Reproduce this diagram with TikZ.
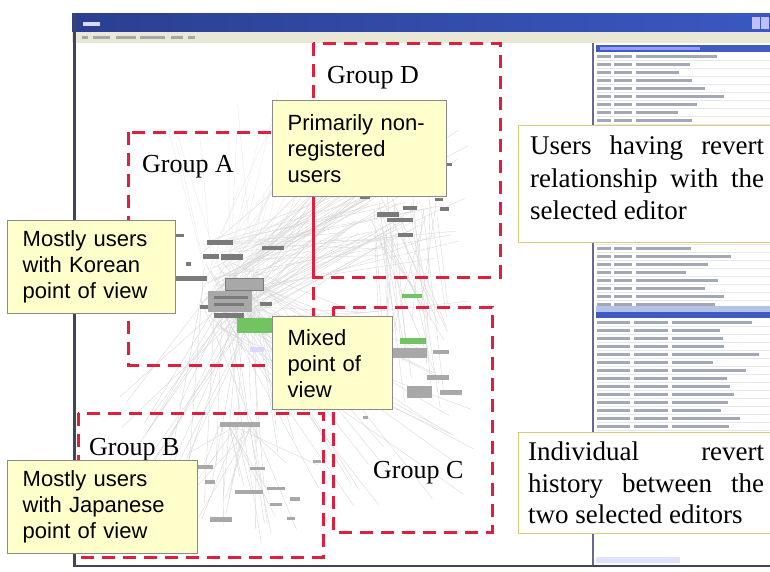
\documentclass[tikz,border=0pt]{standalone}
\usepackage{fontspec}
\setmainfont{Liberation Serif}
\setsansfont{Liberation Sans}
\definecolor{titleblue}{HTML}{3A58C2}
\definecolor{titledark}{HTML}{2B3F90}
\definecolor{menubg}{HTML}{E9E7D6}
\definecolor{frameline}{HTML}{3E4658}
\definecolor{grpred}{HTML}{E01E3E}
\definecolor{noteyellow}{HTML}{FFFFCC}
\definecolor{noteedge}{HTML}{8A8A8A}
\definecolor{infoedge}{HTML}{D8CC78}
\definecolor{edgegray}{HTML}{D6D6D6}
\definecolor{vdark}{HTML}{7A7A7A}
\definecolor{vlight}{HTML}{A8A8A8}
\definecolor{vgreen}{HTML}{72C462}
\definecolor{rowtext}{HTML}{A2A8B6}
\definecolor{rowline}{HTML}{E6E8EE}
\definecolor{selblue}{HTML}{3F5CC0}
\definecolor{lightsel}{HTML}{B4C2E8}
\begin{document}
\begin{tikzpicture}[x=1pt,y=-1pt,
  grp/.style={draw=grpred, line width=3pt, dash pattern=on 13pt off 8pt},
  grplabel/.style={font=\fontsize{26}{30}\selectfont, anchor=base west, inner sep=0pt},
  note/.style={draw=noteedge, fill=noteyellow, line width=1.4pt, anchor=north west,
    font=\sffamily\fontsize{22}{26}\selectfont, align=left, inner xsep=15pt, inner ysep=0pt},
  infobox/.style={draw=infoedge, fill=white, line width=1.2pt, anchor=north west, inner sep=0pt},
  infoline/.style={font=\fontsize{27}{32}\selectfont, anchor=base west, inner sep=0pt},
  edge/.style={edgegray, line width=0.35pt},
  faintedge/.style={edgegray!60, line width=0.3pt},
  vnode/.style={fill=vdark},
  vnodel/.style={fill=vlight},
  rowbar/.style={fill=rowtext}
]
\useasboundingbox (0,0) rectangle (770,571);
\fill[white] (0,0) rectangle (770,571);

% ---------- application window ----------
\shade[left color=titledark, right color=titleblue] (72,13) rectangle (770,32);
\fill[white!85!blue] (83,22) rectangle (100,26);
\fill[white!75!blue] (752,17) rectangle (760,29);
\fill[white!75!blue] (761,17) rectangle (769,29);
\fill[menubg] (72,32) rectangle (770,43);
\foreach \a/\b in {82/88,93/110,116/136,140/165,171/183,188/195}
  \fill[gray!70] (\a,36) rectangle (\b,39);
\draw[frameline, line width=3pt] (74,13) -- (74,567);
\draw[frameline, line width=2pt] (74,566) -- (770,566);

% ---------- graph edges ----------
\pgfmathsetseed{4242}
% cluster A to cluster D
\foreach \i in {1,...,65}{
  \pgfmathsetmacro\ax{200+60*rnd}\pgfmathsetmacro\ay{240+90*rnd}
  \pgfmathsetmacro\bx{330+140*rnd}\pgfmathsetmacro\by{130+130*rnd}
  \draw[edge] (\ax,\ay) -- (\bx,\by);}
% cluster A upwards
\foreach \i in {1,...,22}{
  \pgfmathsetmacro\ax{200+60*rnd}\pgfmathsetmacro\ay{240+90*rnd}
  \pgfmathsetmacro\bx{150+160*rnd}\pgfmathsetmacro\by{90+110*rnd}
  \draw[faintedge] (\ax,\ay) -- (\bx,\by);}
% cluster A to cluster B
\foreach \i in {1,...,40}{
  \pgfmathsetmacro\ax{200+60*rnd}\pgfmathsetmacro\ay{260+70*rnd}
  \pgfmathsetmacro\bx{110+210*rnd}\pgfmathsetmacro\by{390+160*rnd}
  \draw[edge] (\ax,\ay) -- (\bx,\by);}
% cluster A to cluster C
\foreach \i in {1,...,30}{
  \pgfmathsetmacro\ax{210+50*rnd}\pgfmathsetmacro\ay{260+70*rnd}
  \pgfmathsetmacro\bx{340+140*rnd}\pgfmathsetmacro\by{300+220*rnd}
  \draw[edge] (\ax,\ay) -- (\bx,\by);}
% cluster D down to cluster C
\foreach \i in {1,...,30}{
  \pgfmathsetmacro\ax{370+70*rnd}\pgfmathsetmacro\ay{195+45*rnd}
  \pgfmathsetmacro\bx{380+70*rnd}\pgfmathsetmacro\by{290+120*rnd}
  \draw[edge] (\ax,\ay) -- (\bx,\by);}
% inside cluster B
\foreach \i in {1,...,20}{
  \pgfmathsetmacro\ax{220+40*rnd}\pgfmathsetmacro\ay{423}
  \pgfmathsetmacro\bx{180+140*rnd}\pgfmathsetmacro\by{450+80*rnd}
  \draw[edge] (\ax,\ay) -- (\bx,\by);}

% ---------- graph vertices ----------
% cluster A
\foreach \x/\y/\w/\h in {207/240/26/5, 203/254/16/5, 221/254/22/6, 262/246/22/4,
    176/234/8/3, 186/262/5/4, 175/276/32/5, 215/298/36/3, 214/313/30/5,
    200/305/10/4, 260/302/12/4}
  \fill[vnode] (\x,\y) rectangle ++(\w,\h);
\fill[vnodel] (208,291) rectangle ++(44,21);
\fill[vnode] (214,296) rectangle ++(34,3);
\fill[vnode] (214,303) rectangle ++(30,3);
\draw[vdark, fill=vlight, line width=0.8pt] (225,278) rectangle ++(38,12);
\fill[vgreen] (237,318) rectangle ++(38,15);
\fill[blue!15] (250,347) rectangle ++(14,5);
% cluster D
\foreach \x/\y/\w/\h in {377/212/22/5, 387/218/26/4, 398/233/15/4, 403/206/14/4,
    440/207/9/4, 447/163/5/3, 435/198/8/3, 360/196/10/3}
  \fill[vnode] (\x,\y) rectangle ++(\w,\h);
% cluster C
\fill[vgreen] (402,294) rectangle ++(20,4);
\fill[vgreen] (400,338) rectangle ++(26,6);
\foreach \x/\y/\w/\h in {392/348/35/10, 433/350/16/4, 427/375/22/5,
    407/386/25/12, 440/390/22/5, 363/416/5/3}
  \fill[vnodel] (\x,\y) rectangle ++(\w,\h);
% cluster B
\fill[vnodel] (220,422) rectangle ++(40,5);
\foreach \x/\y/\w/\h in {198/465/15/4, 205/480/10/4, 250/467/15/3, 235/490/28/4,
    267/487/18/3, 290/497/10/4, 313/460/8/3, 210/517/22/5, 270/503/12/3, 287/517/8/3}
  \fill[vnodel] (\x,\y) rectangle ++(\w,\h);

% ---------- side panel lists ----------
\draw[gray!80!blue, line width=1.5pt] (593,43) -- (593,565);
\fill[selblue] (596,45) rectangle (770,52);
\fill[white!60!blue] (600,47) rectangle (700,50);
\foreach \y in {52,60,...,300}{
  \pgfmathsetmacro\len{40+60*rnd}
  \draw[rowline, line width=0.6pt] (596,\y+8) -- (770,\y+8);
  \fill[rowbar] (597,\y+3) rectangle (611,\y+5.5);
  \fill[rowbar] (614,\y+3) rectangle (632,\y+5.5);
  \fill[rowbar] (636,\y+3) rectangle (636+\len,\y+5.5);}
\fill[lightsel] (596,306) rectangle (770,312);
\fill[selblue] (596,312) rectangle (770,318);
\foreach \y in {318,326,...,422}{
  \pgfmathsetmacro\len{30+60*rnd}
  \draw[rowline, line width=0.6pt] (596,\y+8) -- (770,\y+8);
  \fill[rowbar] (597,\y+3) rectangle (630,\y+5.5);
  \fill[rowbar] (634,\y+3) rectangle (668,\y+5.5);
  \fill[rowbar] (672,\y+3) rectangle (672+\len,\y+5.5);}
\fill[blue!12] (596,557) rectangle (680,563);

% ---------- groups ----------
\draw[grp] (313,43) rectangle (500,277);
\draw[grp] (128,132) rectangle (313,365);
\draw[grp] (333,307) rectangle (492,532);
\draw[grp] (78,413) rectangle (323,557);
\node[grplabel] (labD) at (327,83) {Group D};
\node[grplabel] (labA) at (142,172) {Group A};
\node[grplabel] (labB) at (89,455) {Group B};
\node[grplabel] (labC) at (373,478) {Group C};

% ---------- annotations ----------
\node[note, minimum width=174pt, minimum height=96pt, text width=144pt] (nonreg) at (272,100)
  {Primarily non-\\registered\\users};
\node[note, minimum width=168pt, minimum height=93pt, text width=138pt] (korean) at (7,220)
  {Mostly users\\with Korean\\point of view};
\node[note, minimum width=120pt, minimum height=93pt, text width=90pt] (mixed) at (272,316)
  {Mixed\\point of\\view};
\node[note, minimum width=190pt, minimum height=93pt, text width=160pt] (japanese) at (7,460)
  {Mostly users\\with Japanese\\point of view};

% revert-relationship box, text justified line by line
\node[infobox, minimum width=256pt, minimum height=117pt] (revusers) at (518,125) {};
\node[infoline] (ru1) at (530,154) {\hbox to 234pt{Users\hfill having\hfill revert}};
\node[infoline] (ru2) at (530,187) {\hbox to 234pt{relationship\hfill with\hfill the}};
\node[infoline] (ru3) at (530,219) {selected editor};
% revert-history box
\node[infobox, minimum width=256pt, minimum height=101pt] (revhist) at (518,432) {};
\node[infoline] (rh1) at (528,460) {\hbox to 236pt{Individual\hfill revert}};
\node[infoline] (rh2) at (528,492) {\hbox to 236pt{history\hfill between\hfill the}};
\node[infoline] (rh3) at (528,523) {two selected editors};
\end{tikzpicture}
\end{document}
